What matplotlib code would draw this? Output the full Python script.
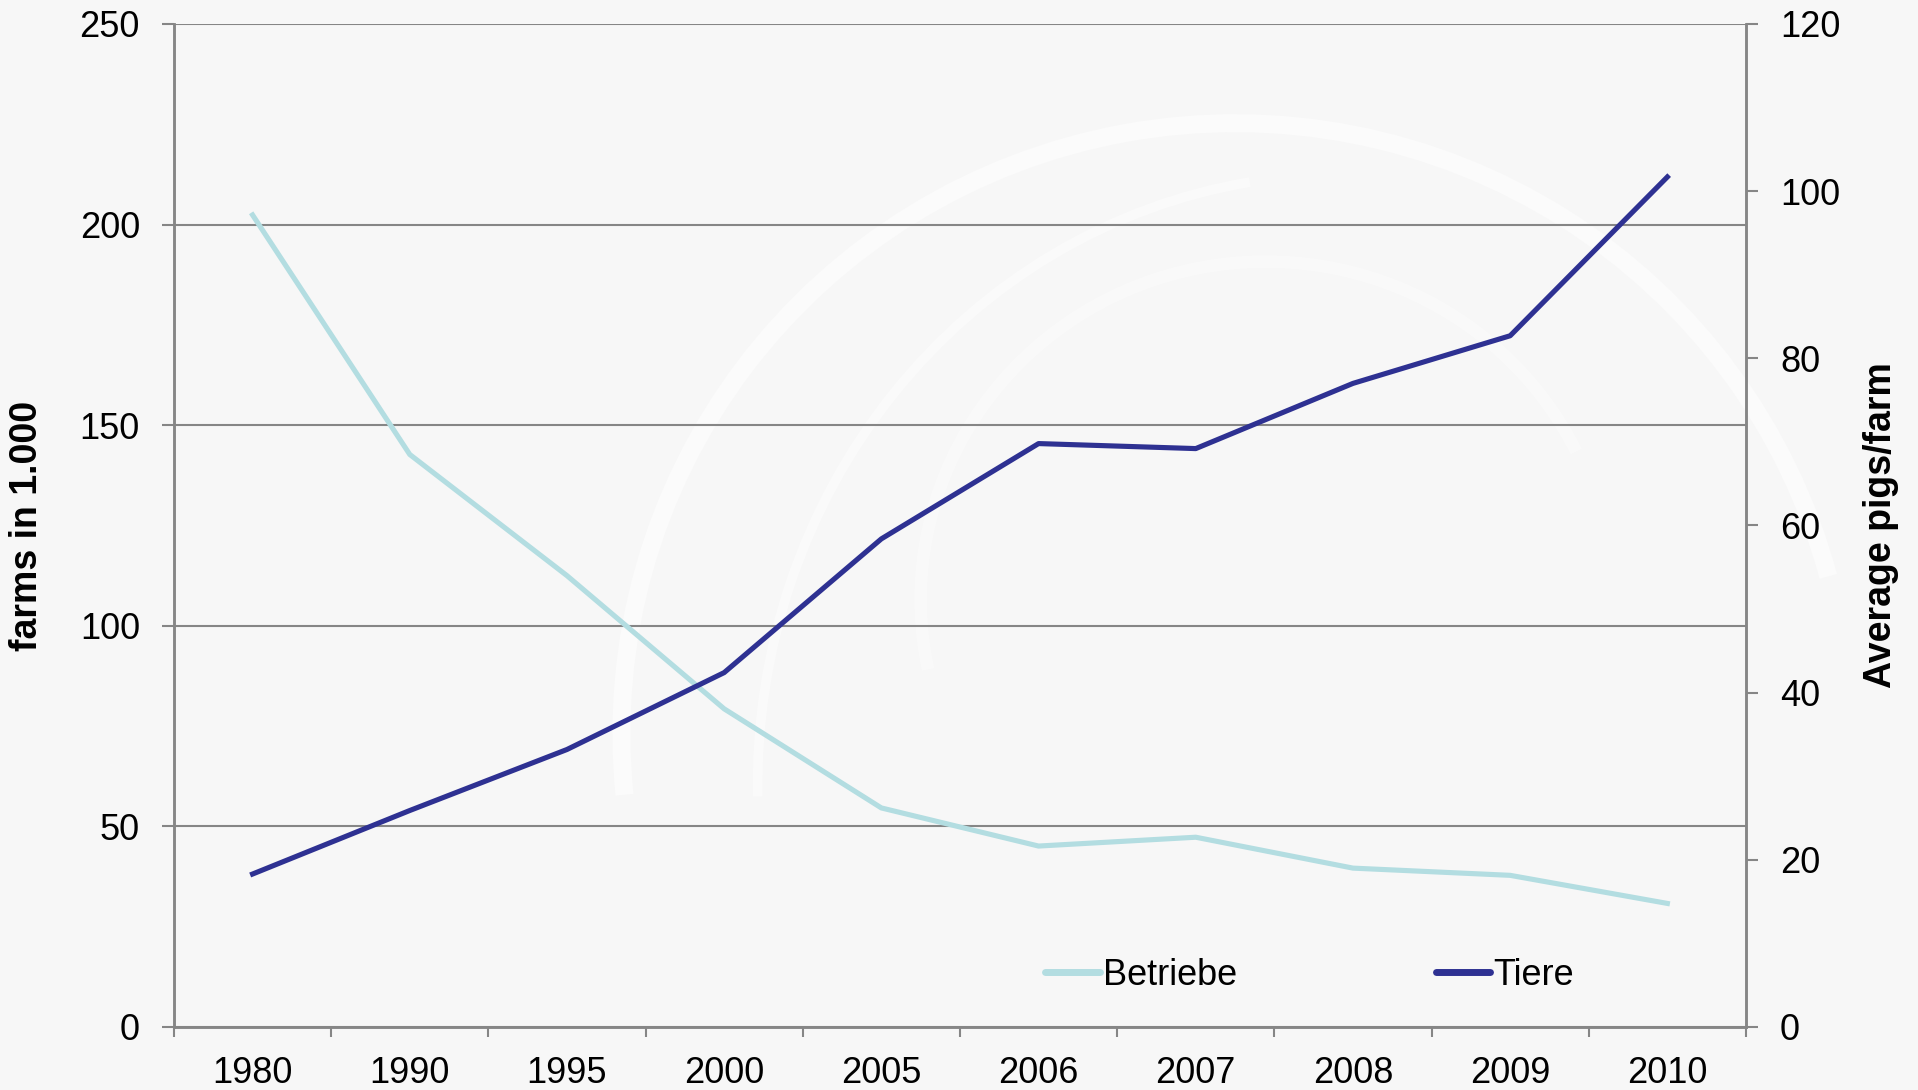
import matplotlib.pyplot as plt
from matplotlib.patches import Arc
from matplotlib.lines import Line2D

# data
years = ['1980', '1990', '1995', '2000', '2005', '2006', '2007', '2008', '2009', '2010']
betriebe = [202.4, 142.7, 112.5, 79.3, 54.6, 45.1, 47.3, 39.6, 37.8, 30.8]   # farms in 1.000
tiere = [18.3, 25.9, 33.2, 42.4, 58.4, 69.8, 69.2, 77.0, 82.7, 101.7]        # average pigs/farm

left_ticks = [0, 50, 100, 150, 200, 250]
right_ticks = [0, 20, 40, 60, 80, 100, 120]

col_betriebe = '#b3dde1'
col_tiere = '#2e3192'
col_axis = '#868686'

plt.rcParams['font.family'] = ['Liberation Sans', 'DejaVu Sans']

fig = plt.figure(figsize=(19.18, 10.9), dpi=100)
fig.patch.set_facecolor('#f7f7f7')

# faint swirl watermark in the background
for cx, cy, w, h, t1, t2, lw, al in [(0.644, 0.327, 0.64, 1.12, 25, 190, 13, 0.5),
                                      (0.70, 0.28, 0.61, 1.12, 95, 182, 7, 0.4),
                                      (0.66, 0.45, 0.36, 0.62, 40, 200, 9, 0.3)]:
    fig.patches.append(Arc((cx, cy), w, h, theta1=t1, theta2=t2, transform=fig.transFigure,
                           color='white', lw=lw, alpha=al, zorder=-5))

ax = fig.add_axes([0.0907, 0.0578, 0.8196, 0.9202])
ax.set_facecolor('none')
ax2 = ax.twinx()

x = list(range(len(years)))
ax.plot(x, betriebe, color=col_betriebe, lw=3.7, zorder=3)
ax2.plot(x, tiere, color=col_tiere, lw=3.7, zorder=3)

ax.set_xlim(-0.5, len(years) - 0.5)
ax.set_ylim(0, 250)
ax2.set_ylim(0, 120)
ax.set_yticks(left_ticks)
ax2.set_yticks(right_ticks)

# category axis: ticks between categories, labels centered
ax.set_xticks([i - 0.5 for i in range(len(years) + 1)])
ax.set_xticklabels([])
ax.set_xticks(x, minor=True)
ax.set_xticklabels(years, minor=True)
ax.tick_params(axis='x', which='major', length=7.5, width=1.5, color=col_axis)
ax.tick_params(axis='x', which='minor', length=0, pad=21, labelsize=26)

ax.tick_params(axis='y', length=8.5, width=1.5, color=col_axis, pad=16, labelsize=26)
ax2.tick_params(axis='y', length=8.5, width=1.5, color=col_axis, pad=16, labelsize=26)

ax.grid(axis='y', color=col_axis, lw=1.5)
ax.set_axisbelow(True)

for a in (ax, ax2):
    for s in a.spines.values():
        s.set_color(col_axis)
        s.set_linewidth(1.8)
    a.spines['top'].set_visible(False)

ax.set_ylabel('farms in 1.000', fontsize=27, fontweight='bold')
ax.yaxis.set_label_coords(-0.082, 0.5)
ax2.set_ylabel('Average pigs/farm', fontsize=27, fontweight='bold', rotation=90)
ax2.yaxis.set_label_coords(1.0744, 0.5)

handles = [Line2D([], [], color=col_betriebe, lw=5, solid_capstyle='round'),
           Line2D([], [], color=col_tiere, lw=5, solid_capstyle='round')]
ax2.legend(handles, ['Betriebe', 'Tiere'], ncol=2, frameon=False, fontsize=26,
           loc='center', bbox_to_anchor=(0.7226, 0.0518), handlelength=1.5,
           handletextpad=0.1, columnspacing=5.5, borderpad=0, borderaxespad=0)

fig.savefig('out.png', dpi=100, facecolor=fig.get_facecolor())
